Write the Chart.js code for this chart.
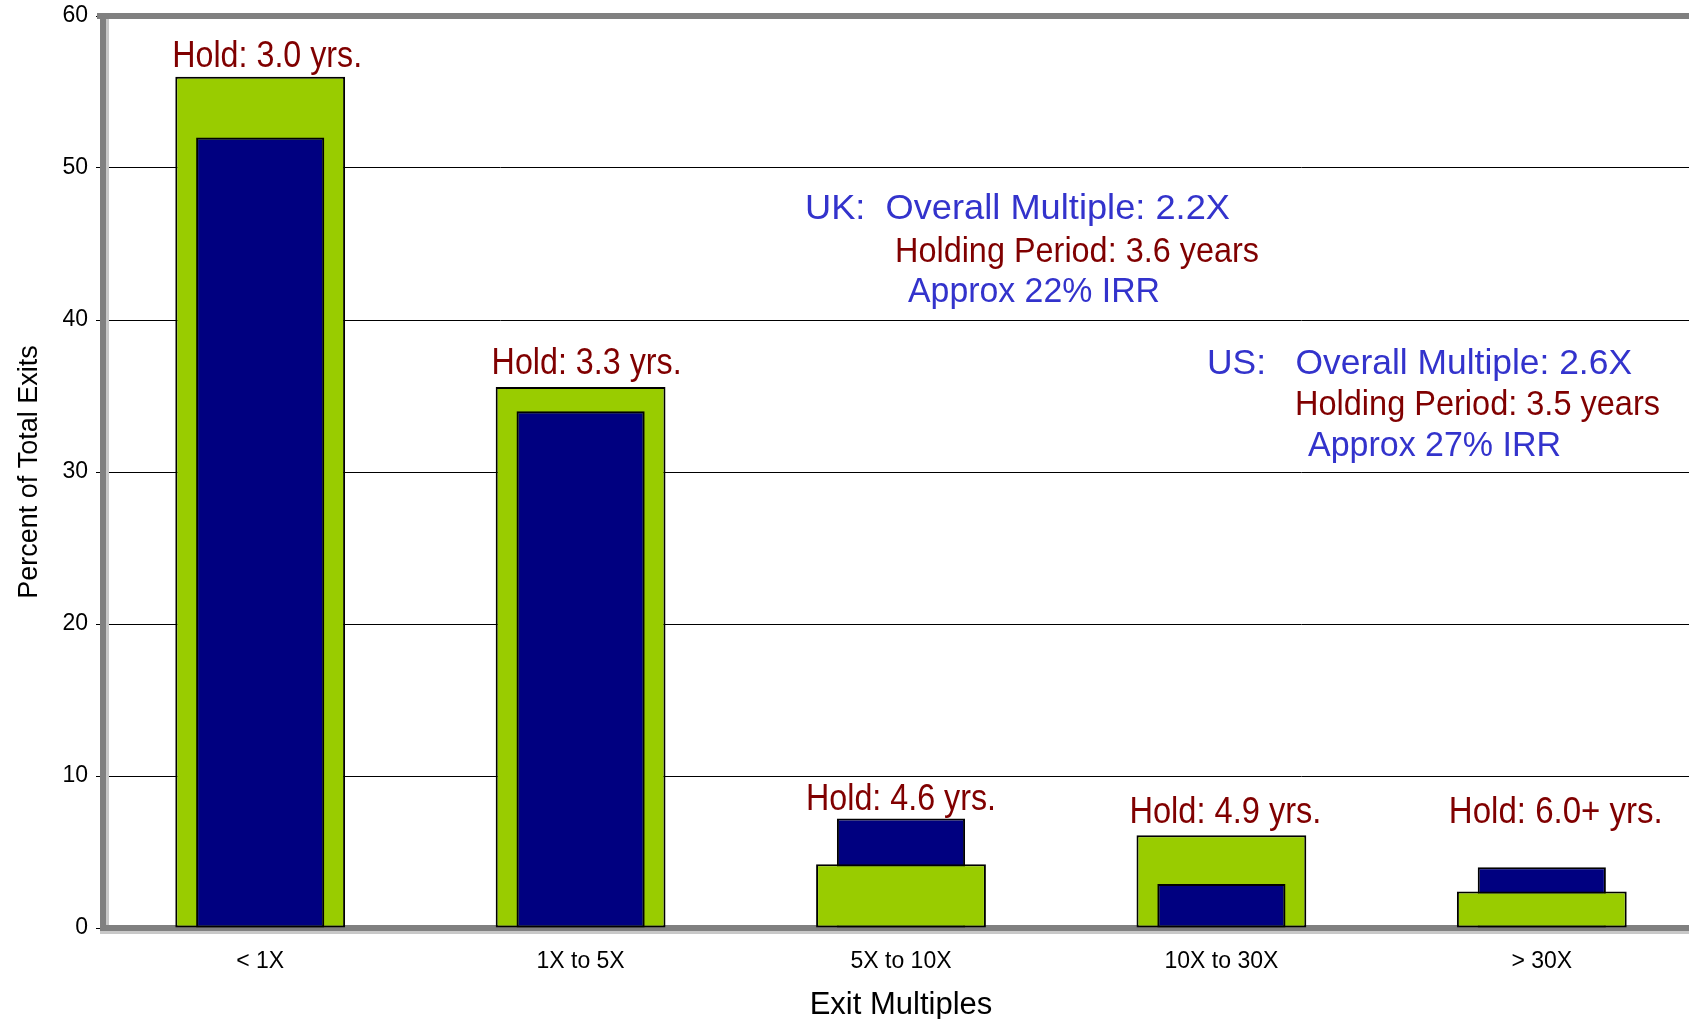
<!DOCTYPE html>
<html>
<head>
<meta charset="utf-8">
<title>Exit Multiples</title>
<script src="https://cdn.jsdelivr.net/npm/chart.js@4.4.1/dist/chart.umd.min.js"></script>
<style>
  html, body { margin:0; padding:0; background:#fff; overflow:hidden; }
  #wrap { width:1702px; height:1019px; }
</style>
</head>
<body>
<div id="wrap"><canvas id="chart" width="1702" height="1019"></canvas></div>
<script>
// --- Datos ---
const categories  = ['< 1X', '1X to 5X', '5X to 10X', '10X to 30X', '> 30X'];
const greenSeries = [56, 35.6, 4.2, 6.1, 2.4];   // barras verdes anchas
const blueSeries  = [52, 34.0, 7.2, 2.9, 4.0];   // barras azules estrechas
const holdLabels  = ['Hold: 3.0 yrs.', 'Hold: 3.3 yrs.', 'Hold: 4.6 yrs.', 'Hold: 4.9 yrs.', 'Hold: 6.0+ yrs.'];
const yTicks      = [0, 10, 20, 30, 40, 50, 60];
const ukNote      = ['UK:  Overall Multiple: 2.2X', 'Holding Period: 3.6 years', 'Approx 22% IRR'];
const usNote      = ['US:   Overall Multiple: 2.6X', 'Holding Period: 3.5 years', 'Approx 27% IRR'];

const GREEN = '#99CC00', NAVY = '#000080', RED = '#800000', BLUE_TXT = '#3333CC';
const FONT = '"Liberation Sans", Arial, sans-serif';

// la barra más baja se dibuja delante (como en el original)
const greenBack  = greenSeries.map((v, i) => v >= blueSeries[i] ? v : null);
const greenFront = greenSeries.map((v, i) => v <  blueSeries[i] ? v : null);

function barSet(data, color, pct, order){
  return { data, backgroundColor: color, borderColor: '#000', borderWidth: 2, borderSkipped: false,
           grouped: false, categoryPercentage: 1, barPercentage: pct, order };
}

// sin relleno extra por las etiquetas de los extremos
function noEdgePad(s){ s.paddingTop = 0; s.paddingBottom = 0; s.paddingLeft = 0; s.paddingRight = 0; }

// --- Marco gris del área de gráfico ---
const framePlugin = {
  id: 'frame',
  beforeDatasetsDraw(chart){
    const { ctx, chartArea: a } = chart;
    ctx.save();
    ctx.fillStyle = '#c8c8c8';
    ctx.fillRect(a.left + 6, a.top, 3, a.bottom - a.top);
    ctx.fillRect(a.left, a.bottom + 3, a.right - a.left, 3);
    ctx.fillStyle = '#808080';
    ctx.fillRect(a.left - 3, a.top - 3, a.right - a.left + 3, 6);
    ctx.fillRect(a.left, a.top - 3, 6, a.bottom - a.top + 6);
    ctx.fillRect(a.left, a.bottom - 3, a.right - a.left, 6);
    ctx.restore();
  }
};

// texto escalado en horizontal hasta un ancho dado
function drawFit(ctx, text, x, y, width, align){
  const sx = width / ctx.measureText(text).width;
  ctx.save();
  ctx.translate(x, y);
  ctx.scale(sx, 1);
  ctx.textAlign = align;
  ctx.fillText(text, 0, 0);
  ctx.restore();
}

// --- Textos: "Hold" sobre cada barra y los recuadros UK / US ---
const notesPlugin = {
  id: 'notes',
  afterDatasetsDraw(chart, args, opts){
    const { ctx } = chart;
    const xs = chart.scales.x, ys = chart.scales.y;
    ctx.save();
    ctx.textBaseline = 'alphabetic';

    ctx.font = `36px ${FONT}`;
    ctx.fillStyle = RED;
    holdLabels.forEach((t, i) => {
      const top = ys.getPixelForValue(Math.max(greenSeries[i], blueSeries[i]));
      drawFit(ctx, t, xs.getPixelForValue(i) + opts.holdDx[i], top - opts.holdLift[i], opts.holdWidth[i], 'center');
    });

    ctx.font = `35px ${FONT}`;
    const colors = [BLUE_TXT, RED, BLUE_TXT];
    [[ukNote, opts.uk], [usNote, opts.us]].forEach(([lines, pos]) => {
      lines.forEach((t, k) => {
        ctx.fillStyle = colors[k];
        drawFit(ctx, t, pos.x[k], pos.y[k], pos.w[k], 'left');
      });
    });
    ctx.restore();
  }
};

new Chart(document.getElementById('chart'), {
  type: 'bar',
  data: {
    labels: categories,
    datasets: [
      barSet(greenFront, GREEN, 0.53, 1),
      barSet(blueSeries, NAVY, 0.40, 2),
      barSet(greenBack, GREEN, 0.53, 3)
    ]
  },
  options: {
    responsive: false,
    animation: false,
    layout: { padding: { top: 16, right: 0, bottom: 0, left: 0 } },
    plugins: {
      legend: { display: false },
      tooltip: { enabled: false },
      notes: {
        holdWidth: [190, 190, 190, 192, 214],
        holdDx: [7, 6, 0, 4, 14],
        holdLift: [10, 13, 9, 12, 44],
        uk: { x: [805, 895, 908], y: [219, 262, 302], w: [425, 364, 252] },
        us: { x: [1207, 1295, 1308], y: [374, 415, 456], w: [425, 365, 253] }
      }
    },
    scales: {
      x: {
        grid: { display: false, drawTicks: false },
        border: { display: false },
        ticks: { color: '#000', font: { family: FONT, size: 23 }, padding: 20 },
        title: { display: true, text: 'Exit Multiples', color: '#000',
                 font: { family: FONT, size: 31 }, padding: { top: 0, bottom: -5 } },
        afterFit: s => { s.height = 91; noEdgePad(s); }
      },
      y: {
        min: 0, max: 60,
        afterBuildTicks: s => { s.ticks = yTicks.map(v => ({ value: v })); },
        grid: { color: '#000', lineWidth: 1, tickLength: 4, drawTicks: true },
        border: { display: false },
        ticks: { color: '#000', font: { family: FONT, size: 23 }, padding: 8 },
        title: { display: true, text: 'Percent of Total Exits', color: '#000',
                 font: { family: FONT, size: 27 }, padding: { top: 13, bottom: 0 } },
        afterFit: s => { s.width = 100; noEdgePad(s); }
      }
    }
  },
  plugins: [framePlugin, notesPlugin]
});
</script>
</body>
</html>
